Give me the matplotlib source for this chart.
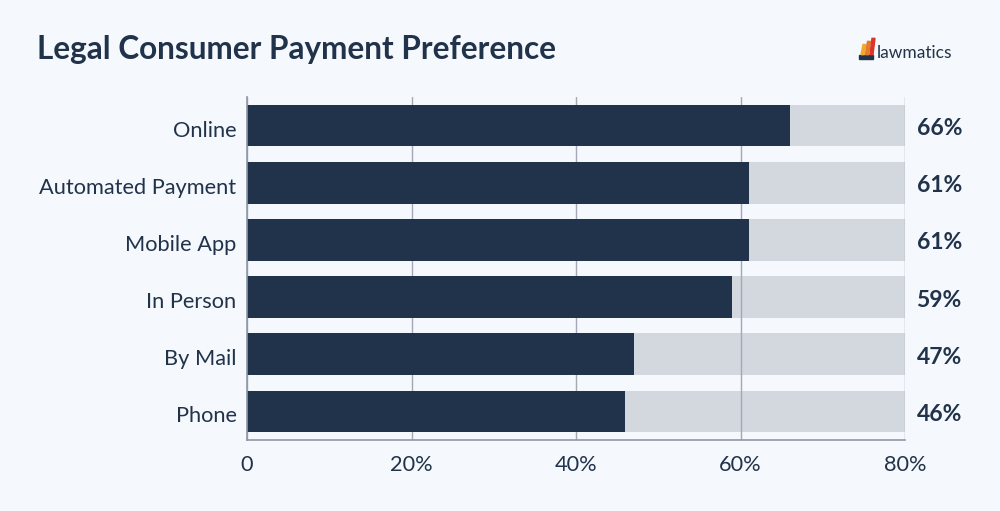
import matplotlib
matplotlib.use("Agg")
import matplotlib.pyplot as plt
from matplotlib.patches import Polygon
from matplotlib.transforms import ScaledTranslation

categories = ["Online", "Automated Payment", "Mobile App", "In Person", "By Mail", "Phone"]
values = [66, 61, 61, 59, 47, 46]
max_value = 80
xticks = [0, 20, 40, 60, 80]
xtick_labels = ["0", "20%", "40%", "60%", "80%"]
title = "Legal Consumer Payment Preference"

BG = "#f5f8fc"
DARK = "#21334b"
LIGHT = "#d3d8df"
GRID = "#a3aab5"

plt.rcParams["font.family"] = ["Lato", "DejaVu Sans"]

fig = plt.figure(figsize=(10, 5.11), dpi=100, facecolor=BG)
ax = fig.add_axes([0.247, 0.1389, 0.658, 0.6713])
ax.set_facecolor(BG)

y = list(range(len(categories)))
ax.barh(y, [max_value] * len(values), height=0.73, color=LIGHT, zorder=1)
ax.barh(y, values, height=0.73, color=DARK, zorder=3)

ax.set_xlim(0, max_value)
ax.set_ylim(len(categories) - 0.5, -0.5)
ax.set_yticks(y)
ax.set_yticklabels(categories, fontsize=15.7, color=DARK)
ax.set_xticks(xticks)
ax.set_xticklabels(xtick_labels, fontsize=15.7, color=DARK)
ax.tick_params(axis="both", length=0)
ax.tick_params(axis="y", pad=7.5)
ax.tick_params(axis="x", pad=11)
shift = ScaledTranslation(0, -3 / 100, fig.dpi_scale_trans)
for lbl in ax.get_yticklabels():
    lbl.set_transform(lbl.get_transform() + shift)
ax.xaxis.grid(True, color=GRID, linewidth=1, zorder=2)
ax.set_axisbelow(False)
for s in ["top", "right"]:
    ax.spines[s].set_visible(False)
for s in ["left", "bottom"]:
    ax.spines[s].set_color("#8e97a5")
    ax.spines[s].set_linewidth(1.2)
    ax.spines[s].set_zorder(4)

for yi, v in zip(y, values):
    t = ax.text(max_value + 1.4, yi, f"{v}%", va="center", ha="left",
                fontsize=16.5, fontweight="bold", color=DARK)
    t.set_transform(t.get_transform() + shift)

fig.text(0.037, 0.903, title, fontsize=22.7, fontweight="bold", color=DARK,
         va="center", ha="left")

# logo
fig.text(0.877, 0.897, "lawmatics", fontsize=12.5, color=DARK, va="center", ha="left")
fig.patches.append(Polygon([[0.859, 0.885], [0.873, 0.885], [0.873, 0.893], [0.859, 0.893]],
                           closed=True, transform=fig.transFigure, color=DARK))
for i, c in enumerate(["#f0a830", "#e8782a", "#d9352b"]):
    x0 = 0.861 + i * 0.0045
    fig.patches.append(Polygon([[x0, 0.893], [x0 + 0.003, 0.893],
                                [x0 + 0.005, 0.893 + 0.02 + i * 0.006],
                                [x0 + 0.002, 0.893 + 0.02 + i * 0.006]],
                               closed=True, transform=fig.transFigure, color=c))

fig.savefig("out.png", dpi=100, facecolor=BG)
